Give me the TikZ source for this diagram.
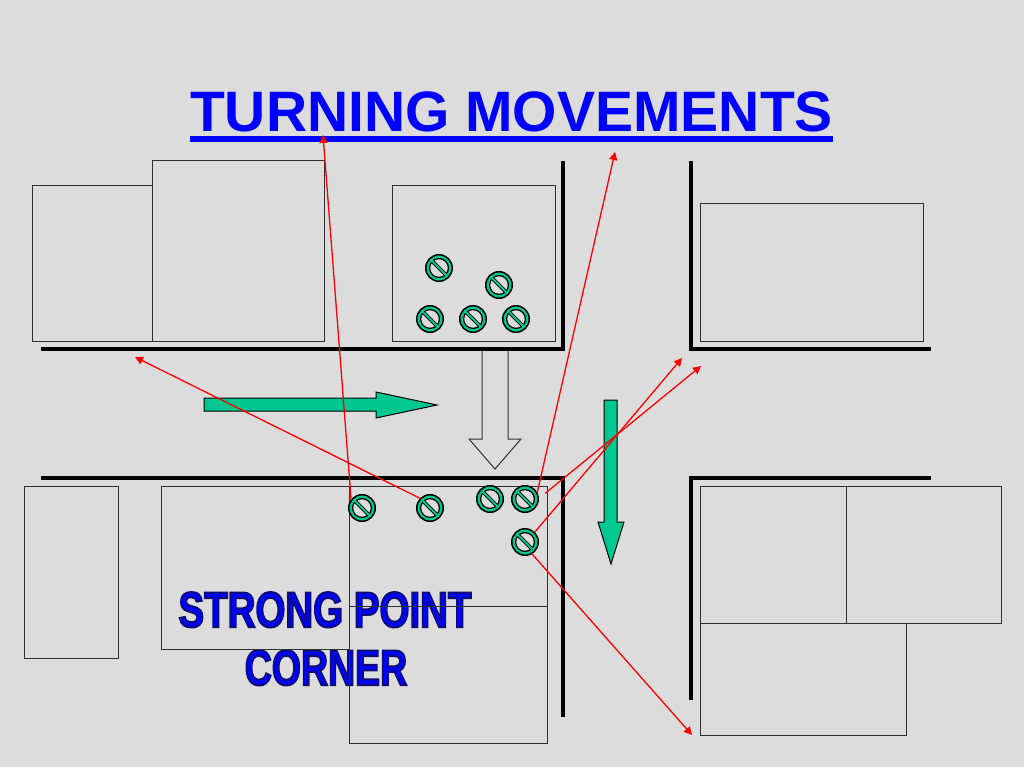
\documentclass[tikz,border=0pt]{standalone}
\usepackage{fontspec}
\setmainfont{Liberation Sans}
\usetikzlibrary{arrows.meta,positioning,calc}
\definecolor{Sheet}{HTML}{DCDCDC}
\definecolor{Mint}{HTML}{00C890}
\definecolor{Edge}{HTML}{303030}
\newcommand{\inkline}{\special{pdf:code 2 Tr 2 w 0.05 0.05 0.45 RG}}

\begin{document}
\begin{tikzpicture}[x=1pt,y=-1pt,
    lot/.style={draw=Edge,line width=1pt},
    kerb/.style={black,line width=4pt},
    block/.style={draw=black,line width=1pt,fill=Mint},
    hollow/.style={draw=Edge,line width=1pt,fill=Sheet},
    move/.style={-{Triangle[length=8pt,width=8pt]},red,line width=1.3pt},
    stopmark/.style={circle,draw=black,line width=1.5pt,fill=Mint,minimum size=26.5pt,
      inner sep=0pt,outer sep=0pt,path picture={
        \draw[black,line width=1.2pt,fill=Sheet] (path picture bounding box.center) circle (9.4pt);
        \draw[black,line width=3.6pt] (path picture bounding box.center) ++(-7,-7) -- ++(14,14);
        \draw[Mint,line width=1.8pt] (path picture bounding box.center) ++(-8.5,-8.5) -- ++(17,17);
      }},
    bigtext/.style={inner sep=0pt,text=blue,font=\fontsize{50}{50}\selectfont\bfseries}
  ]
    \fill[Sheet] (0,0) rectangle (1024,767);
    % heading
    \node[inner sep=0pt,anchor=base,text=blue,font=\fontsize{57}{57}\selectfont\bfseries] (heading) at (511.5,131.5) {TURNING MOVEMENTS};
    \draw[blue,line width=6pt] ($(heading.base west)+(0,8)$) -- ($(heading.base east)+(0,8)$);
    % caption under the lot lines
    \node[bigtext,anchor=base] (strong) at (325,627) {\scalebox{.77}[1]{\inkline STRONG POINT}};
    \node[bigtext,anchor=base] (corner) at (326,685) {\scalebox{.75}[1]{\inkline CORNER}};
    % lots
    \foreach \xa/\ya/\xb/\yb in {32/186/152/341,152/161/324/341,392/186/555/341,700/204/923/341,
      24/486/118/658,161/486/349/649,349/486/547/606,349/606/547/743,
      700/486/846/623,846/486/1001/623,700/623/906/735}
      \draw[lot] (\xa,\ya) rectangle (\xb,\yb);
    % kerbs
    \draw[kerb] (41,349) -- (563,349) -- (563,161);
    \draw[kerb] (691,161) -- (691,349) -- (931,349);
    \draw[kerb] (41,478) -- (563,478) -- (563,717);
    \draw[kerb] (931,478) -- (691,478) -- (691,700);
    % traffic
    \draw[block] (204,398) -- (376,398) -- (376,392) -- (437,405) -- (376,418) -- (376,411) -- (204,411) -- cycle;
    \draw[block] (604,400) -- (617,400) -- (617,522) -- (624,522) -- (611,564) -- (598,522) -- (604,522) -- cycle;
    \draw[hollow] (482,351) -- (482,439) -- (469,439) -- (495,469) -- (521,439) -- (508,439) -- (508,351);
    % stops
    \node[stopmark] (p1) at (439,268) {};
    \node[stopmark] (p2) at (499,285) {};
    \node[stopmark] (p3) at (430,319) {};
    \node[stopmark] (p4) at (473,319) {};
    \node[stopmark] (p5) at (516,319) {};
    \node[stopmark] (q1) at (362,508) {};
    \node[stopmark] (q2) at (430,508) {};
    \node[stopmark] (q3) at (490,499) {};
    \node[stopmark] (q4) at (525,499) {};
    \node[stopmark] (q5) at (525,542) {};
    % turning movements
    \coordinate (t1) at (323,135);
    \coordinate (t2) at (135,357);
    \coordinate (t3) at (615,152);
    \coordinate (t4) at (682,358);
    \coordinate (t5) at (701,366);
    \coordinate (t6) at (692,735);
    \draw[move] (q1.145) -- (t1);
    \draw[move] (q2.135) -- (t2);
    \draw[move] (q4.25) -- (t3);
    \draw[move,shorten <=9pt] (q4.east) -- (t5);
    \draw[move,shorten <=1pt] (q5.45) -- (t4);
    \draw[move] (q5.-60) -- (t6);
  \end{tikzpicture}
\end{document}
